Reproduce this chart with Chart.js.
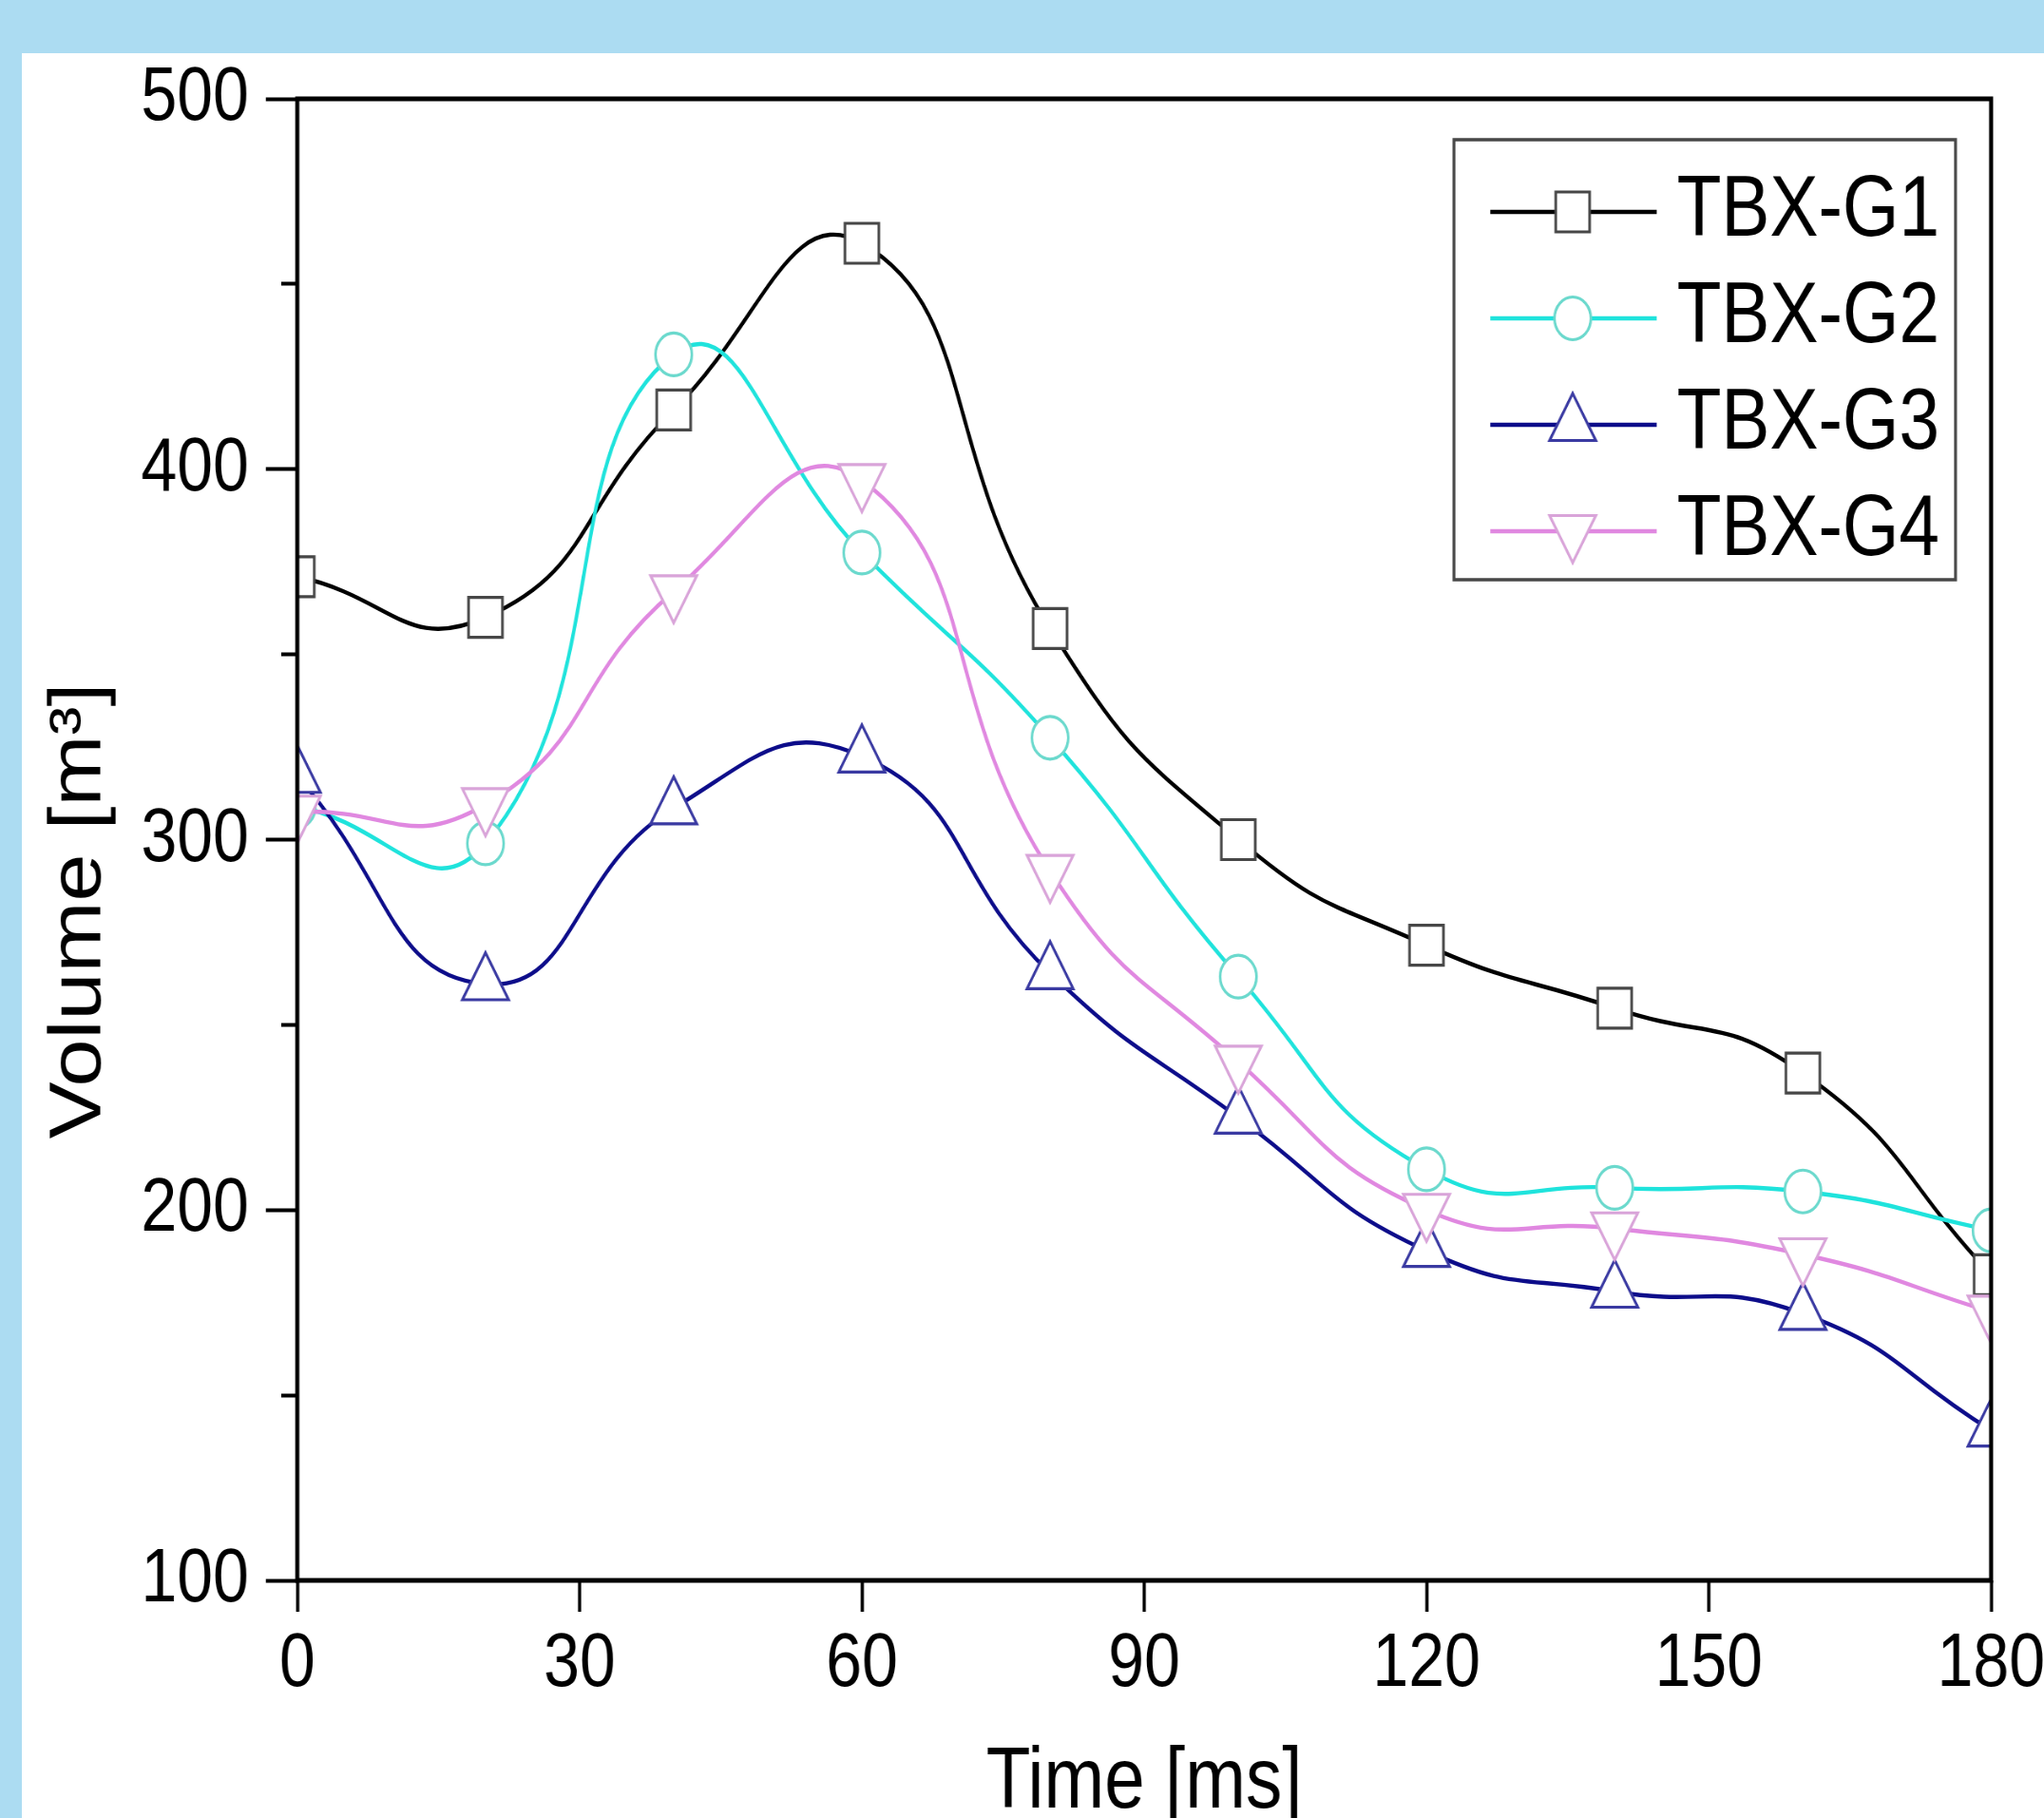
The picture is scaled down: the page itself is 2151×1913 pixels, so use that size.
<!DOCTYPE html>
<html>
<head>
<meta charset="utf-8">
<script src="https://cdn.jsdelivr.net/npm/chart.js@4/dist/chart.umd.min.js"></script>
<style>
html,body{margin:0;padding:0;}
body{width:2151px;height:1913px;background:#acdcf2;overflow:hidden;position:relative;}
#panel{position:absolute;left:23px;top:56px;width:2128px;height:1857px;background:#ffffff;overflow:hidden;}
#c{position:absolute;left:0;top:0;transform:scaleX(0.85);transform-origin:0 0;}
</style>
</head>
<body>
<div id="panel"><canvas id="c" width="2504" height="1857"></canvas></div>
<script>
// ---- data ----
const times = [0, 20, 40, 60, 80, 100, 120, 140, 160, 180];
const seriesNames = ['TBX-G1', 'TBX-G2', 'TBX-G3', 'TBX-G4'];
const g1 = [371, 360, 416, 461, 357, 300, 271.5, 254.5, 237, 182.5];
const g2 = [309, 299, 431, 377.5, 327.5, 263, 211, 206, 205, 194.5];
const g3 = [317, 261, 308.5, 322.5, 264, 225, 189, 178, 172, 140.5];
const g4 = [307.5, 309.5, 367, 397, 291.5, 240, 200, 195, 188, 172.5];
const xTicks = [0, 30, 60, 90, 120, 150, 180];
const yTicks = [100, 150, 200, 250, 300, 350, 400, 450, 500];
const yLabels = ['100', '', '200', '', '300', '', '400', '', '500'];
const xTitle = 'Time [ms]';
const yTitle = 'Volume [m³]';

// ---- styles ----
const FONT = "'Liberation Sans', Arial, Helvetica, sans-serif";
const LINE_W = 4.4;
const styles = [
  {line: '#000000', mark: '#474747', shape: 'rect', r: 29.7, rot: 0},
  {line: '#1fe3dc', mark: '#6bd9cd', shape: 'circle', r: 22.5, rot: 0},
  {line: '#0d0d8a', mark: '#3a3aa2', shape: 'triangle', r: 33, rot: 0},
  {line: '#e088e0', mark: '#d9a4d9', shape: 'triangle', r: 33, rot: 180}
];
const seriesValues = [g1, g2, g3, g4];

const datasets = seriesValues.map((vals, k) => ({
  label: seriesNames[k],
  data: times.map((t, i) => ({x: t, y: vals[i]})),
  order: seriesValues.length - k,
  borderColor: styles[k].line,
  borderWidth: LINE_W,
  tension: 0.5,
  fill: false,
  clip: 0,
  pointStyle: styles[k].shape,
  pointRadius: styles[k].r,
  pointRotation: styles[k].rot,
  pointBorderWidth: 3.2,
  pointBorderColor: styles[k].mark,
  pointBackgroundColor: '#ffffff',
  pointHoverRadius: styles[k].r
}));

function drawMarker(ctx, s, x, y) {
  ctx.save();
  ctx.beginPath();
  const r = s.r;
  if (s.shape === 'circle') {
    ctx.arc(x, y, r, 0, Math.PI * 2);
  } else if (s.shape === 'rect') {
    const h = r * Math.SQRT1_2;
    ctx.rect(x - h, y - h, 2 * h, 2 * h);
  } else {
    let rad = s.rot * Math.PI / 180;
    for (let i = 0; i < 3; i++) {
      const px = x + Math.sin(rad) * r, py = y - Math.cos(rad) * r;
      if (i === 0) ctx.moveTo(px, py); else ctx.lineTo(px, py);
      rad += 2 * Math.PI / 3;
    }
    ctx.closePath();
  }
  ctx.fillStyle = '#ffffff';
  ctx.fill();
  ctx.lineWidth = 3.2;
  ctx.strokeStyle = s.mark;
  ctx.stroke();
  ctx.restore();
}

const framePlugin = {
  id: 'frame',
  afterDatasetsDraw(chart) {
    const {ctx, chartArea: a} = chart;
    ctx.save();
    ctx.strokeStyle = '#000';
    ctx.lineWidth = 5;
    ctx.strokeRect(a.left, a.top, a.right - a.left, a.bottom - a.top);
    ctx.restore();
  }
};

const legendPlugin = {
  id: 'boxLegend',
  afterDraw(chart) {
    const {ctx, chartArea: a} = chart;
    const left = a.right - 665, top = a.top + 43, w = 621, h = 463;
    ctx.save();
    ctx.fillStyle = '#ffffff';
    ctx.fillRect(left, top, w, h);
    ctx.strokeStyle = '#474747';
    ctx.lineWidth = 3.5;
    ctx.strokeRect(left, top, w, h);
    chart.data.datasets.forEach((ds, k) => {
      const y = top + 76 + k * 112;
      ctx.beginPath();
      ctx.moveTo(left + 45, y);
      ctx.lineTo(left + 251, y);
      ctx.strokeStyle = ds.borderColor;
      ctx.lineWidth = LINE_W;
      ctx.stroke();
      drawMarker(ctx, styles[k], left + 147, y);
      ctx.fillStyle = '#000';
      ctx.font = '90px ' + FONT;
      ctx.textAlign = 'left';
      ctx.textBaseline = 'middle';
      ctx.fillText(ds.label, left + 276, y);
    });
    ctx.restore();
  }
};

new Chart(document.getElementById('c'), {
  type: 'line',
  data: {datasets},
  plugins: [framePlugin, legendPlugin],
  options: {
    responsive: false,
    animation: false,
    devicePixelRatio: 1,
    layout: {padding: {left: 0, top: 48, right: 66, bottom: 0}},
    plugins: {legend: {display: false}, tooltip: {enabled: false}},
    scales: {
      x: {
        type: 'linear', min: 0, max: 180,
        afterBuildTicks: s => { s.ticks = xTicks.map(v => ({value: v})); },
        afterFit: s => { s.height = 250; s.paddingLeft = 0; s.paddingRight = 0; },
        border: {display: false},
        grid: {drawOnChartArea: false, drawTicks: true, tickLength: 33, tickWidth: 4, tickColor: '#000'},
        ticks: {padding: 16, color: '#000', maxRotation: 0, autoSkip: false,
                font: {family: FONT, size: 80, lineHeight: 1}},
        title: {display: true, text: xTitle, color: '#000',
                font: {family: FONT, size: 90, lineHeight: 0.8}, padding: {top: 0, bottom: 0}}
      },
      y: {
        type: 'linear', min: 100, max: 500,
        afterBuildTicks: s => { s.ticks = yTicks.map(v => ({value: v})); },
        afterFit: s => { s.width = 341; s.paddingTop = 0; s.paddingBottom = 0; },
        border: {display: false},
        grid: {drawOnChartArea: false, drawTicks: true, tickLength: 39, tickWidth: 4, tickColor: '#000',
               tickBorderDash: c => (c.tick && yLabels[yTicks.indexOf(c.tick.value)] === '') ? [0, 19, 20, 1000] : []},
        ticks: {padding: 21, color: '#000', autoSkip: false,
                font: {family: FONT, size: 80, lineHeight: 1},
                callback: v => { const i = yTicks.indexOf(v); return i >= 0 ? yLabels[i] : ''; }},
        title: {display: true, text: yTitle + '      ', color: '#000',
                font: {family: FONT, size: 90, lineHeight: 0.8}, padding: {top: 36, bottom: 0}}
      }
    }
  }
});
</script>
</body>
</html>
